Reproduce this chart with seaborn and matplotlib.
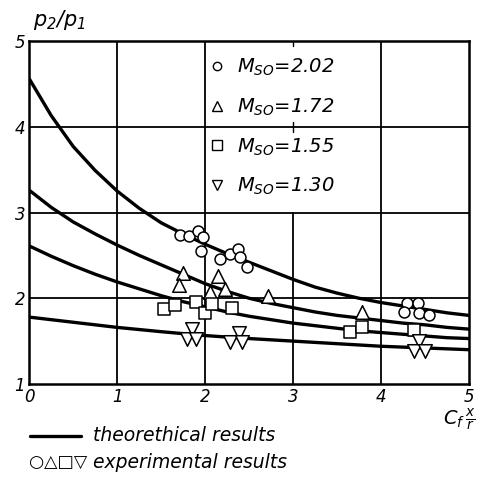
import numpy as np
import pandas as pd
import matplotlib
matplotlib.use("Agg")
import matplotlib.pyplot as plt
import seaborn as sns
from matplotlib.lines import Line2D

# ---- data ----
x_theory = [0, 0.25, 0.5, 0.75, 1, 1.25, 1.5, 1.75, 2, 2.25, 2.5, 2.75, 3,
            3.25, 3.5, 3.75, 4, 4.25, 4.5, 4.75, 5]
y_m202 = [4.56, 4.13, 3.77, 3.49, 3.25, 3.05, 2.88, 2.75, 2.63, 2.52, 2.42, 2.32, 2.22,
          2.13, 2.06, 2.00, 1.95, 1.91, 1.87, 1.83, 1.80]
y_m172 = [3.26, 3.06, 2.89, 2.75, 2.62, 2.50, 2.39, 2.28, 2.17, 2.08, 2.00, 1.94, 1.89,
          1.84, 1.80, 1.77, 1.74, 1.71, 1.69, 1.66, 1.64]
y_m155 = [2.61, 2.49, 2.38, 2.28, 2.19, 2.11, 2.03, 1.96, 1.90, 1.84, 1.79, 1.75, 1.71,
          1.68, 1.65, 1.62, 1.60, 1.58, 1.56, 1.54, 1.53]
y_m130 = [1.78, 1.75, 1.72, 1.69, 1.66, 1.635, 1.61, 1.587, 1.565, 1.547, 1.53, 1.515, 1.50,
          1.485, 1.47, 1.455, 1.44, 1.43, 1.42, 1.41, 1.40]

# experimental points
circ_x = [1.71, 1.82, 1.92, 1.97, 1.95, 2.17, 2.28, 2.37, 2.40, 2.47, 4.29, 4.42, 4.26, 4.43, 4.55]
circ_y = [2.74, 2.73, 2.79, 2.71, 2.55, 2.46, 2.52, 2.58, 2.48, 2.36, 1.95, 1.95, 1.84, 1.83, 1.81]
tri_x = [1.75, 1.70, 2.15, 2.23, 2.06, 2.72, 3.78]
tri_y = [2.29, 2.15, 2.26, 2.11, 2.07, 2.03, 1.84]
sq_x = [1.53, 1.66, 1.90, 2.00, 2.08, 2.31, 3.65, 3.78, 4.37]
sq_y = [1.87, 1.92, 1.96, 1.83, 1.93, 1.89, 1.61, 1.66, 1.63]
dtri_x = [1.85, 1.79, 1.90, 2.38, 2.28, 2.42, 4.43, 4.38, 4.50]
dtri_y = [1.64, 1.53, 1.53, 1.60, 1.49, 1.49, 1.50, 1.39, 1.39]

mach_labels = ["2.02", "1.72", "1.55", "1.30"]
x_ticks = [0, 1, 2, 3, 4, 5]
y_ticks = [1, 2, 3, 4, 5]

# ---- style ----
sns.set_theme(style="white")
plt.rcParams["font.family"] = ["DejaVu Sans"]
plt.rcParams["mathtext.fontset"] = "custom"
plt.rcParams["mathtext.rm"] = "DejaVu Sans:italic"
plt.rcParams["mathtext.it"] = "DejaVu Sans:italic"
for key in ["text.color", "axes.labelcolor", "xtick.color", "ytick.color"]:
    plt.rcParams[key] = "black"

fig = plt.figure(figsize=(4.84, 4.78), dpi=100)
ax = fig.add_axes([0.0605, 0.1967, 0.9085, 0.7173])
ax.set_xlim(0, 5)
ax.set_ylim(1, 5)

# grid (x=3 line hidden behind legend region)
for gx in [1, 2, 4]:
    ax.axvline(gx, color="black", lw=1.3, zorder=1)
ax.plot([3, 3], [1, 3], color="black", lw=1.3, zorder=1)
ax.plot([3, 3], [4.94, 5], color="black", lw=1.0, zorder=1)
ax.plot([3, 3], [3.94, 4.06], color="black", lw=1.0, zorder=1)
for gy in [2, 3, 4]:
    ax.axhline(gy, color="black", lw=1.3, zorder=1)

# theory curves
th = pd.DataFrame({
    "x": x_theory * 4,
    "y": y_m202 + y_m172 + y_m155 + y_m130,
    "M": sum([[m] * len(x_theory) for m in mach_labels], []),
})
sns.lineplot(data=th, x="x", y="y", units="M", estimator=None, color="black",
             lw=2.4, ax=ax, legend=False, zorder=3)

# experiments
groups = [(circ_x, circ_y, "o", 62), (tri_x, tri_y, "^", 95),
          (sq_x, sq_y, "s", 75), (dtri_x, dtri_y, "v", 95)]
for gx_, gy_, mk, s in groups:
    sns.scatterplot(x=gx_, y=gy_, marker=mk, s=s, facecolor="white",
                    edgecolor="black", linewidth=1.1, ax=ax, zorder=4)

for sp in ax.spines.values():
    sp.set_color("black")
    sp.set_linewidth(1.8)

ax.set_xticks(x_ticks)
ax.set_yticks(y_ticks)
ax.set_xticklabels([str(t) for t in x_ticks], fontstyle="italic", fontsize=12)
ax.set_yticklabels([str(t) for t in y_ticks], fontstyle="italic", fontsize=12)
ax.tick_params(length=0, pad=3, colors="black")
ax.set_xlabel("")
ax.set_ylabel("")

# legend
handles = [Line2D([], [], ls="none", marker=m, markersize=ms, markerfacecolor="white",
                  markeredgecolor="black", markeredgewidth=1.0)
           for m, ms in zip(["o", "^", "s", "v"], [6, 7.5, 7, 7.5])]
labels = ["$M_{SO}$=" + m for m in mach_labels]
leg = ax.legend(handles, labels, loc="upper left", bbox_to_anchor=(0.365, 1.0),
                frameon=False, prop={"size": 14, "style": "italic"}, labelspacing=0.95,
                handletextpad=0.45, handlelength=1.2, borderaxespad=0.4)
for t in leg.get_texts():
    t.set_color("black")

# axis titles
fig.text(0.068, 0.958, "$p_2/p_1$", fontsize=15, ha="left", va="center", color="black")
fig.text(0.948, 0.122, r"$C_f\,\frac{x}{r}$", fontsize=14, ha="center", va="center",
         color="black")

# bottom key
fig.add_artist(Line2D([0.062, 0.168], [0.088, 0.088], color="black", lw=2.4,
                      transform=fig.transFigure))
fig.text(0.192, 0.088, "theorethical results", fontsize=13.5, fontstyle="italic",
         ha="left", va="center", color="black")
fig.text(0.060, 0.033, "\u25cb\u25b3\u25a1\u25bd", fontsize=12.5, ha="left", va="center",
         color="black")
fig.text(0.192, 0.033, "experimental results", fontsize=13.5, fontstyle="italic",
         ha="left", va="center", color="black")

fig.savefig("out.png", dpi=100)
